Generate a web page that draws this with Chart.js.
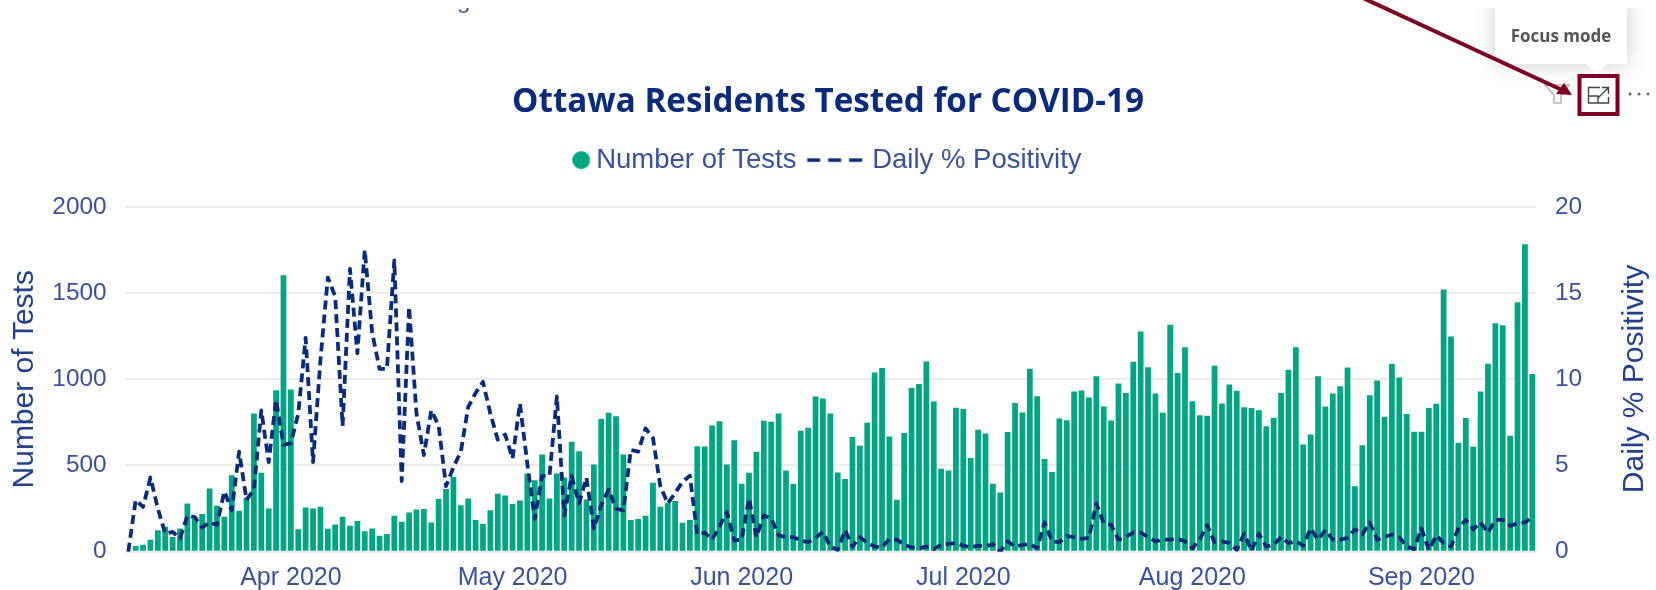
<!DOCTYPE html>
<html>
<head>
<meta charset="utf-8">
<title>Ottawa Residents Tested for COVID-19</title>
<script src="https://cdn.jsdelivr.net/npm/chart.js@4"></script>
<style>
    html, body { margin: 0; padding: 0; background: #fff; overflow: hidden; }
    canvas { display: block; }
</style>
</head>
<body>
<canvas id="graficaOttawa" width="1656" height="590"></canvas>
<script>
// Daily values, 10 Mar 2020 to 16 Sep 2020
const numberOfTests = [
    5, 33, 40, 70, 125, 145, 85, 135, 280, 193, 218, 367, 267, 203, 444, 238, 315, 802, 458, 251,
    937, 1603, 941, 130, 257, 251, 261, 133, 158, 203, 151, 178, 118, 135, 93, 102, 209, 174, 228, 245,
    247, 170, 305, 363, 435, 270, 309, 184, 160, 241, 336, 326, 276, 297, 454, 415, 564, 309, 454, 431,
    638, 583, 303, 506, 769, 806, 786, 564, 184, 189, 209, 400, 261, 284, 294, 168, 184, 612, 610, 732,
    757, 506, 647, 394, 458, 580, 759, 753, 802, 471, 392, 701, 719, 900, 889, 802, 460, 421, 665, 614,
    748, 1039, 1066, 668, 301, 688, 949, 972, 1103, 871, 481, 471, 835, 827, 543, 707, 686, 394, 344, 694,
    862, 808, 1061, 902, 537, 462, 773, 763, 929, 935, 895, 1018, 842, 761, 976, 920, 1101, 1277, 1070, 918,
    806, 1316, 1037, 1186, 873, 792, 788, 1078, 860, 970, 933, 838, 833, 821, 728, 777, 920, 1055, 1186, 622,
    680, 1018, 842, 918, 960, 1068, 379, 618, 908, 993, 782, 1088, 1010, 798, 695, 695, 833, 858, 1520, 1248,
    632, 775, 609, 929, 1090, 1325, 1314, 672, 1447, 1783, 1030
];
const dailyPositivity = [
    0, 3.0, 2.6, 4.3, 2.5, 1.05, 1.15, 0.77, 2.1, 2.0, 1.4, 1.7, 1.55, 3.5, 2.4, 5.8, 3.0, 3.6, 8.2, 5.2,
    8.8, 6.2, 6.3, 8.0, 12.4, 5.2, 11.1, 15.9, 14.8, 7.3, 16.4, 11.5, 17.5, 12.7, 10.6, 10.6, 16.9, 4.1, 14.2, 8.0,
    5.6, 8.2, 7.3, 3.8, 4.9, 5.8, 8.4, 9.2, 9.85, 8.0, 6.5, 6.8, 5.4, 8.6, 5.1, 1.9, 4.4, 4.4, 9.0, 2.1,
    4.4, 2.8, 4.3, 1.35, 2.7, 3.6, 2.5, 2.4, 5.9, 5.8, 7.15, 6.6, 3.8, 2.8, 3.4, 4.05, 4.4, 1.0, 1.1, 0.7,
    1.45, 2.3, 0.65, 0.7, 3.1, 0.85, 2.1, 1.95, 0.95, 0.85, 0.85, 0.65, 0.55, 0.8, 1.15, 0.3, 0.1, 1.25, 0.3, 0.85,
    0.5, 0.3, 0.25, 0.75, 0.7, 0.4, 0.25, 0.2, 0.3, 0.15, 0.4, 0.45, 0.5, 0.35, 0.25, 0.35, 0.3, 0.45, 0, 0.6,
    0.3, 0.4, 0.45, 0.2, 1.7, 0.6, 0.55, 0.9, 0.85, 0.75, 0.8, 2.8, 1.65, 1.55, 0.7, 0.85, 1.1, 1.1, 0.85, 0.6,
    0.7, 0.7, 0.75, 0.6, 0.2, 0.7, 1.55, 0.55, 0.6, 0.5, 0.1, 1.05, 0.05, 1.05, 0.3, 0.4, 0.85, 0.5, 0.6, 0.35,
    1.35, 0.7, 1.25, 0.7, 0.7, 0.8, 1.3, 1.0, 1.7, 0.7, 0.85, 1.0, 0.85, 0.3, 0.15, 1.35, 0.1, 0.95, 0.5, 0.3,
    1.35, 1.85, 1.3, 1.7, 1.1, 1.85, 1.85, 1.5, 1.65, 1.7, 2.0
];
const monthTicks = {
    '2020-04-01': 'Apr 2020',
    '2020-05-01': 'May 2020',
    '2020-06-01': 'Jun 2020',
    '2020-07-01': 'Jul 2020',
    '2020-08-01': 'Aug 2020',
    '2020-09-01': 'Sep 2020'
};
const testTicks = [0, 500, 1000, 1500, 2000];

const categories = numberOfTests.map((_, index) =>
    new Date(Date.UTC(2020, 2, 10 + index)).toISOString().slice(0, 10));

const GREEN = '#00a583';
const NAVY = '#0b2a78';
const TICK_BLUE = '#3a5199';
const TITLE_BLUE = '#24408c';
const FONT = '"Liberation Sans", Arial, sans-serif';

// Legend swatches: the canvas is wider than the 56px box so both can reach into the text gap
function circleSwatch() {
    const c = document.createElement('canvas');
    c.width = 72;
    c.height = 20;
    const g = c.getContext('2d');
    g.fillStyle = GREEN;
    g.beginPath();
    g.arc(62.75, 10, 9, 0, Math.PI * 2);
    g.fill();
    return c;
}

function dashSwatch() {
    const c = document.createElement('canvas');
    c.width = 72;
    c.height = 20;
    const g = c.getContext('2d');
    g.strokeStyle = NAVY;
    g.lineWidth = 3.5;
    g.setLineDash([13, 8]);
    g.beginPath();
    g.moveTo(12.75, 10);
    g.lineTo(68.75, 10);
    g.stroke();
    return c;
}

// Screenshot furniture around the chart: tooltip, toolbar icons, red callout
const screenshotMarks = {
    id: 'screenshotMarks',
    afterLayout(chart) {
        chart.legend.left -= 24;
        chart.legend.right -= 24;
        chart.legend.top -= 23;
        chart.legend.bottom -= 23;
    },
    afterDraw(chart) {
        const c = chart.ctx;
        c.save();

        // right axis title reads bottom to top here, the library turns it the other way
        c.save();
        c.translate(1635, 379);
        c.rotate(-Math.PI / 2);
        c.fillStyle = TITLE_BLUE;
        c.font = '30px ' + FONT;
        c.textAlign = 'center';
        c.textBaseline = 'middle';
        c.fillText('Daily % Positivity', 0, 0);
        c.restore();

        // cut off heading from the slide above, only the tail of the g shows
        c.save();
        c.beginPath();
        c.rect(440, 8, 50, 7);
        c.clip();
        c.fillStyle = TICK_BLUE;
        c.font = '24px ' + FONT;
        c.textBaseline = 'alphabetic';
        c.fillText('g', 457, 8);
        c.restore();

        // tooltip
        c.save();
        c.beginPath();
        c.rect(1440, 8, 216, 120);
        c.clip();
        c.shadowColor = 'rgba(0, 0, 0, 0.22)';
        c.shadowBlur = 20;
        c.fillStyle = '#fff';
        c.fillRect(1495, 2, 132, 62);
        c.shadowColor = 'transparent';
        c.beginPath();
        c.moveTo(1586, 64);
        c.lineTo(1607, 64);
        c.lineTo(1596.5, 74);
        c.closePath();
        c.fill();
        c.fillStyle = '#555';
        c.font = 'bold 17px "Open Sans", sans-serif';
        c.textAlign = 'center';
        c.textBaseline = 'middle';
        c.fillText('Focus mode', 1561, 37);
        c.restore();

        // filter icon
        c.strokeStyle = '#b5b5b5';
        c.lineWidth = 1.5;
        c.beginPath();
        c.moveTo(1545, 85);
        c.lineTo(1569, 85);
        c.lineTo(1561, 95);
        c.lineTo(1561, 103);
        c.lineTo(1554, 103);
        c.lineTo(1554, 95);
        c.closePath();
        c.stroke();

        // focus icon
        c.strokeStyle = '#444';
        c.lineWidth = 1.4;
        c.beginPath();
        c.moveTo(1600, 87.5);
        c.lineTo(1588.5, 87.5);
        c.lineTo(1588.5, 103);
        c.lineTo(1608.5, 103);
        c.lineTo(1608.5, 97);
        c.moveTo(1588.5, 96);
        c.lineTo(1598, 96);
        c.lineTo(1598, 103);
        c.moveTo(1598.5, 97.5);
        c.lineTo(1608.5, 87.5);
        c.moveTo(1602, 87.5);
        c.lineTo(1608.5, 87.5);
        c.lineTo(1608.5, 94);
        c.stroke();

        // more options dots
        c.fillStyle = '#666';
        [1630, 1639, 1648].forEach(x => {
            c.beginPath();
            c.arc(x, 94, 1.5, 0, Math.PI * 2);
            c.fill();
        });

        // red arrow and box
        c.strokeStyle = '#7d0022';
        c.fillStyle = '#7d0022';
        c.lineWidth = 4;
        c.strokeRect(1579.5, 76, 38, 38);
        c.beginPath();
        c.moveTo(1363, -2);
        c.lineTo(1562, 90);
        c.stroke();
        c.beginPath();
        c.moveTo(1572, 95);
        c.lineTo(1556, 94);
        c.lineTo(1564, 83);
        c.closePath();
        c.fill();

        c.restore();
    }
};

document.addEventListener('DOMContentLoaded', function () {
    const ctx = document.getElementById('graficaOttawa');

    new Chart(ctx, {
        data: {
            labels: categories,
            datasets: [
                {
                    type: 'bar',
                    label: 'Number of Tests',
                    data: numberOfTests,
                    yAxisID: 'y',
                    backgroundColor: GREEN,
                    barPercentage: 0.78,
                    categoryPercentage: 1,
                    order: 1
                },
                {
                    type: 'line',
                    label: 'Daily % Positivity',
                    data: dailyPositivity,
                    yAxisID: 'y1',
                    borderColor: NAVY,
                    backgroundColor: NAVY,
                    borderWidth: 3.8,
                    borderDash: [9, 5],
                    borderJoinStyle: 'round',
                    pointRadius: 0,
                    tension: 0,
                    order: 0
                }
            ]
        },
        options: {
            responsive: false,
            animation: false,
            layout: { padding: 0 },
            plugins: {
                title: {
                    display: true,
                    text: 'Ottawa Residents Tested for COVID-19',
                    color: NAVY,
                    font: { family: '"Open Sans", sans-serif', size: 33.2, weight: 'bold' },
                    padding: { top: 83, bottom: 40.5 }
                },
                legend: {
                    display: true,
                    labels: {
                        usePointStyle: true,
                        pointStyleWidth: 56,
                        color: TICK_BLUE,
                        font: { family: FONT, size: 27.5 },
                        padding: 6,
                        sort: (a, b) => a.datasetIndex - b.datasetIndex,
                        generateLabels(chart) {
                            return Chart.defaults.plugins.legend.labels.generateLabels(chart).map(item => {
                                item.pointStyle = item.datasetIndex === 0 ? circleSwatch() : dashSwatch();
                                return item;
                            });
                        }
                    }
                },
                tooltip: { enabled: false }
            },
            scales: {
                x: {
                    grid: { display: false },
                    border: { display: false },
                    afterFit(scale) { scale.height = 38.3; },
                    ticks: {
                        autoSkip: false,
                        maxRotation: 0,
                        minRotation: 0,
                        color: TICK_BLUE,
                        font: { family: FONT, size: 25 },
                        padding: 3,
                        callback(value) {
                            return monthTicks[this.getLabelForValue(value)] || '';
                        }
                    }
                },
                y: {
                    position: 'left',
                    min: testTicks[0],
                    max: testTicks[testTicks.length - 1],
                    border: { display: false },
                    grid: { color: '#ececec', lineWidth: 2, drawTicks: false },
                    afterFit(scale) { scale.width = 124.6; },
                    ticks: {
                        stepSize: 500,
                        color: TICK_BLUE,
                        font: { family: FONT, size: 24.4 },
                        padding: 18,
                        callback: value => String(value)
                    },
                    title: {
                        display: true,
                        text: 'Number of Tests',
                        color: TITLE_BLUE,
                        font: { family: FONT, size: 30 },
                        padding: { top: 7, bottom: 0 }
                    }
                },
                y1: {
                    position: 'right',
                    min: 0,
                    max: 20,
                    border: { display: false },
                    grid: { display: false, drawOnChartArea: false },
                    afterFit(scale) { scale.width = 120; },
                    ticks: {
                        stepSize: 5,
                        color: TICK_BLUE,
                        font: { family: FONT, size: 24.4 },
                        padding: 11
                    }
                }
            }
        },
        plugins: [screenshotMarks]
    });
});
</script>
</body>
</html>
